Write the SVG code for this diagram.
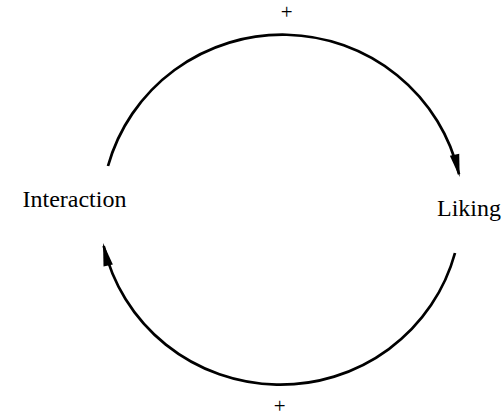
<svg xmlns="http://www.w3.org/2000/svg" width="504" height="418" viewBox="0 0 504 418">
  <style>
    .lbl { font-family: "Liberation Serif", "Times New Roman", serif; font-size: 24px; fill: #000; }
    .sign { font-family: "Liberation Serif", "Times New Roman", serif; font-size: 21px; fill: #000; }
    .arc { fill: none; stroke: #000; stroke-width: 2.7; marker-end: url(#head); }
  </style>
  <defs>
    <marker id="head" markerUnits="userSpaceOnUse" markerWidth="40" markerHeight="40" refX="0" refY="0" orient="auto" overflow="visible">
      <path d="M3,0 L-20,-4.8 L-20,4.8 Z" fill="#000"/>
    </marker>
  </defs>
  <rect width="504" height="418" fill="#fff"/>
  <g id="node-interaction">
    <text class="lbl" x="22.5" y="207">Interaction</text>
  </g>
  <g id="node-liking">
    <text class="lbl" x="437" y="215.5">Liking</text>
  </g>
  <g id="connectors">
    <path class="arc" d="M108,166 A181,179 0 0,1 459,174.2"/>
    <text class="sign" x="286.7" y="19.2" text-anchor="middle">+</text>
    <path class="arc" d="M455,253 A181,178 0 0,1 103.7,246"/>
    <text class="sign" x="279.7" y="413.2" text-anchor="middle">+</text>
  </g>
</svg>
